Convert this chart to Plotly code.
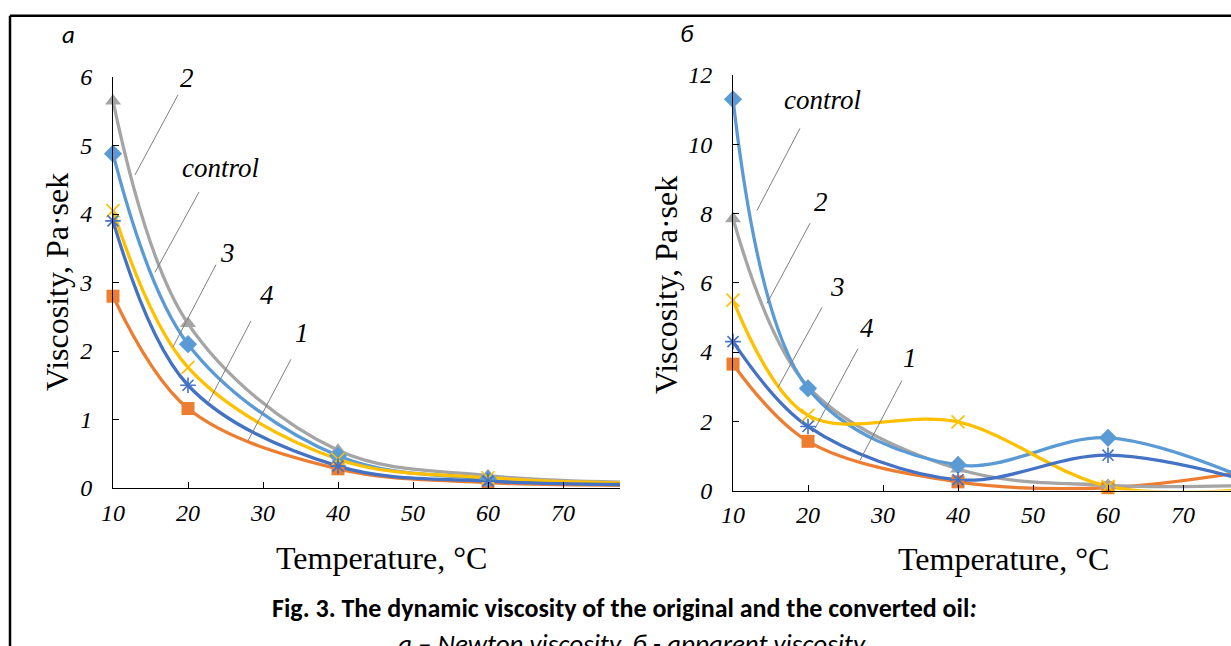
import plotly.graph_objects as go

# ---------------- data ----------------
temps = [10, 20, 40, 60, 80]

# (a) Newton viscosity, Pa·s
newton_control = [4.88, 2.10, 0.47, 0.13, 0.05]
newton_1 = [2.80, 1.16, 0.28, 0.08, 0.04]
newton_2 = [5.65, 2.40, 0.55, 0.18, 0.08]
newton_3 = [4.05, 1.76, 0.42, 0.15, 0.07]
newton_4 = [3.90, 1.50, 0.32, 0.10, 0.05]

# (б) apparent viscosity, Pa·s
app_control = [11.30, 2.95, 0.74, 1.52, 0.20]
app_1 = [3.65, 1.42, 0.25, 0.08, 0.60]
app_2 = [7.85, 3.00, 0.62, 0.15, 0.15]
app_3 = [5.50, 2.17, 1.98, 0.12, 0.05]
app_4 = [4.30, 1.85, 0.31, 1.02, 0.20]

x_ticks = [10, 20, 30, 40, 50, 60, 70]
left_y_ticks = [0, 1, 2, 3, 4, 5, 6]
right_y_ticks = [0, 2, 4, 6, 8, 10, 12]

series_names = ["1", "2", "control", "3", "4"]

# ---------------- style ----------------
W, H = 1231, 646
SERIF = "Liberation Serif, Times New Roman, serif"
SANS = "Carlito, Roboto, Liberation Sans, sans-serif"
styles = {
    "1": dict(color="#ED7D31", symbol="square", size=13, lw=0),
    "2": dict(color="#A5A5A5", symbol="triangle-up", size=14, lw=0),
    "control": dict(color="#5B9BD5", symbol="diamond", size=14, lw=0),
    "3": dict(color="#FFC000", symbol="x-thin", size=13, lw=1.6),
    "4": dict(color="#4472C4", symbol="asterisk", size=13, lw=1.6),
}


def px(x):
    return x / W


def py(y):
    return 1 - y / H


fig = go.Figure()

left = dict(zip(series_names, [newton_1, newton_2, newton_control, newton_3, newton_4]))
right = dict(zip(series_names, [app_1, app_2, app_control, app_3, app_4]))

for axes, data in ((("x", "y"), left), (("x2", "y2"), right)):
    for name in series_names:
        st = styles[name]
        vals = data[name]
        fig.add_trace(go.Scatter(
            x=temps, y=vals, xaxis=axes[0], yaxis=axes[1], mode="lines",
            line=dict(color=st["color"], width=3.3, shape="spline", smoothing=1.0),
            showlegend=False, hoverinfo="skip"))
    for name in series_names:
        st = styles[name]
        vals = data[name]
        mk = dict(color=st["color"], symbol=st["symbol"], size=st["size"])
        if st["lw"]:
            mk["line"] = dict(color=st["color"], width=st["lw"])
        fig.add_trace(go.Scatter(
            x=temps[:4], y=vals[:4], xaxis=axes[0], yaxis=axes[1], mode="markers",
            marker=mk, cliponaxis=False, showlegend=False, name=name))

axis_common = dict(showgrid=False, zeroline=False, showline=True, linecolor="black",
                   linewidth=1, ticks="inside", ticklen=6, tickcolor="black",
                   automargin=False,
                   tickfont=dict(family=SERIF, size=24, color="black", style="italic"))

fig.update_layout(
    template="none",
    width=W, height=H, margin=dict(l=0, r=0, t=0, b=0, pad=0, autoexpand=False),
    paper_bgcolor="white", plot_bgcolor="white",
    xaxis=dict(domain=[px(113), px(620)], range=[10, 10 + (620 - 113) / 7.5], anchor="y",
               tickvals=x_ticks, ticklabelstandoff=3, **axis_common),
    yaxis=dict(domain=[py(488), py(77)], range=[0, 6], anchor="x",
               tickvals=left_y_ticks, ticklabelstandoff=15, **axis_common),
    xaxis2=dict(domain=[px(733), 1.0], range=[10, 10 + (W - 733) / 7.5], anchor="y2",
                tickvals=x_ticks, ticklabelstandoff=3, **axis_common),
    yaxis2=dict(domain=[py(490.5), py(75)], range=[0, 12], anchor="x2",
                tickvals=right_y_ticks, ticklabelstandoff=15, **axis_common),
)

# leader lines and curve labels (data coordinates of each panel)
labels_left = [
    ("2", (19.9, 5.99), (18.67, 5.74), (12.93, 4.57)),
    ("control", (24.3, 4.67), (21.47, 4.32), (15.6, 3.15)),
    ("3", (25.3, 3.43), (23.73, 3.26), (18.0, 2.06)),
    ("4", (30.5, 2.82), (28.4, 2.44), (22.67, 1.24)),
    ("1", (35.2, 2.26), (33.73, 1.88), (28.0, 0.69)),
]
labels_right = [
    ("control", (21.9, 11.27), (18.93, 10.46), (13.2, 8.09)),
    ("2", (21.7, 8.32), (20.27, 7.72), (14.53, 5.40)),
    ("3", (23.9, 5.87), (21.87, 5.29), (16.0, 2.98)),
    ("4", (27.9, 4.68), (26.67, 4.10), (20.93, 1.79)),
    ("1", (33.6, 3.84), (32.53, 3.18), (26.93, 0.87)),
]
for (xr, yr), labs in ((("x", "y"), labels_left), (("x2", "y2"), labels_right)):
    for text, (tx, ty), (x0, y0), (x1, y1) in labs:
        fig.add_shape(type="line", xref=xr, yref=yr, x0=x0, y0=y0, x1=x1, y1=y1,
                      line=dict(color="#7F7F7F", width=1))
        fig.add_annotation(xref=xr, yref=yr, x=tx, y=ty, text=text, showarrow=False,
                           xanchor="center", yanchor="middle",
                           font=dict(family=SERIF, size=27, color="black", style="italic"))


def paper_text(text, xc, yc, font, angle=0):
    fig.add_annotation(xref="paper", yref="paper", x=px(xc), y=py(yc), text=text,
                       showarrow=False, xanchor="center", yanchor="middle",
                       textangle=angle, font=font)


# axis titles
for xc, yc in ((57, 282), (666, 285)):
    paper_text("Viscosity, Pa·sek", xc, yc, dict(family=SERIF, size=32, color="black"), angle=-90)
for xc, yc in ((382, 558), (1003, 559)):
    paper_text("Temperature, °C", xc, yc, dict(family=SERIF, size=32, color="black"))

# panel letters
for t, xc, yc in (("а", 68, 35), ("б", 687, 33)):
    paper_text(t, xc, yc, dict(family=SANS, size=25, color="black", style="italic"))

# caption
paper_text("<b>Fig. 3. The dynamic viscosity of the original and the converted oil</b><b><i>:</i></b>",
           624, 608, dict(family=SANS, size=26, color="black"))
paper_text("<i>а – Newton viscosity, б - apparent viscosity</i>",
           632, 643, dict(family=SANS, size=27, color="black"))

# outer frame (top and left edges visible)
fig.add_shape(type="line", xref="paper", yref="paper", x0=px(10), x1=1.01, y0=py(15.7), y1=py(15.7),
              line=dict(color="black", width=2.5))
fig.add_shape(type="line", xref="paper", yref="paper", x0=px(10), x1=px(10), y0=py(15.7), y1=-0.01,
              line=dict(color="black", width=2.5))

fig.write_html("out.html", config={"displayModeBar": False},
               post_script="document.body.style.margin='0';document.body.style.overflow='hidden';")
